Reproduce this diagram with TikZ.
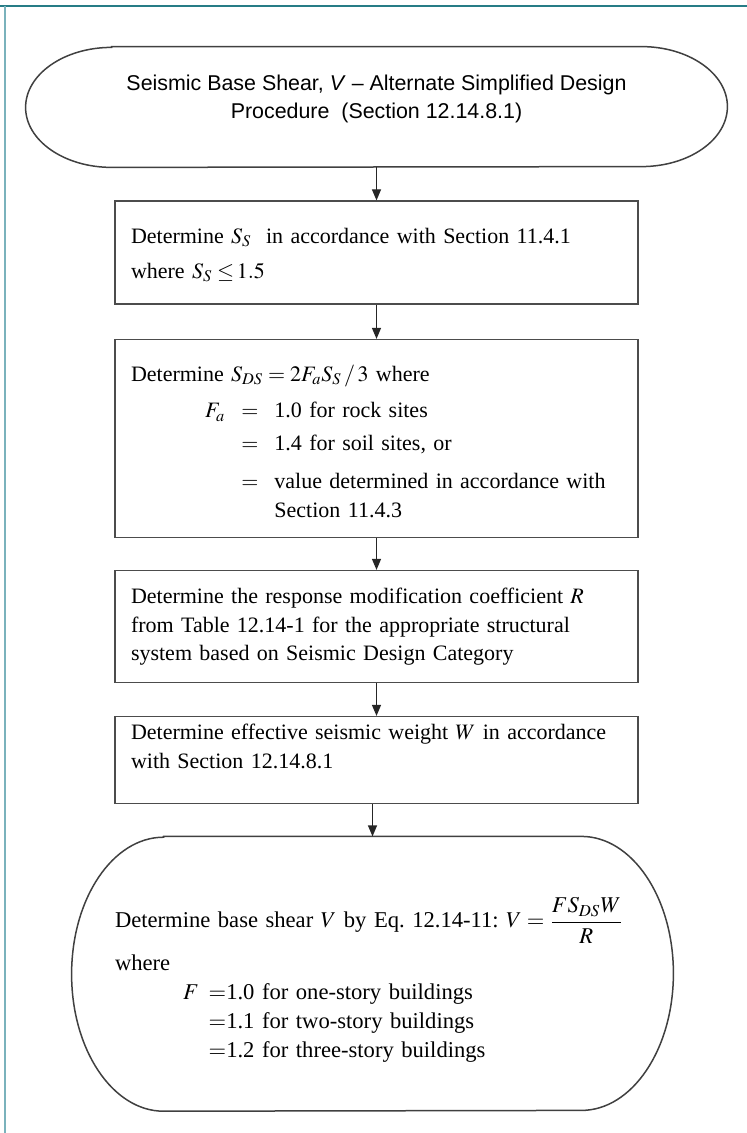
\documentclass[tikz,border=0pt]{standalone}
\usepackage{amsmath}
\usepackage{mathptmx}
\usepackage{fontspec}
\setmainfont{Liberation Serif}
\newfontfamily\titlefont{Liberation Sans}
\frenchspacing
\usetikzlibrary{positioning,shapes,arrows.meta}
\definecolor{FrameTeal}{RGB}{38,124,134}
\definecolor{FrameTealLight}{RGB}{122,178,188}
\tikzstyle{StepBox}=[rectangle, draw=black!70, line width=0.75pt, text width=245.5pt, inner xsep=8pt, align=left, font=\fontsize{11}{14.25}\selectfont]
\tikzstyle{TermNode}=[rectangle, inner sep=0pt, align=center]
\tikzstyle{TermLine}=[draw=black!75, line width=0.75pt]
\tikzstyle{FlowArrow}=[-{Triangle[length=5.5pt,width=4.5pt]}, draw=black!85, line width=0.6pt]

\begin{document}
\begin{tikzpicture}[node distance={15.75pt}]
  \useasboundingbox (0,0) rectangle (373.5pt,-566.5pt);
  % frame
  \draw[FrameTeal, line width=1pt] (0,-3pt) -- (373.5pt,-3pt);
  \draw[FrameTealLight, line width=1.2pt] (2.5pt,-3pt) -- (2.5pt,-566.5pt);

  \node[TermNode, minimum width=350.5pt, minimum height=60pt, font=\titlefont\fontsize{10.7}{14}\selectfont] (start) at (188.25pt,-53.5pt) {Seismic Base Shear, \textit{V} – Alternate Simplified Design\\ Procedure\ \ (Section 12.14.8.1)\rule[-10pt]{0pt}{10pt}};
  \node[StepBox, minimum height=51.5pt, below=16.5pt of start] (ss) {\rule{0pt}{10pt}Determine $S_S$\ \ in accordance with Section 11.4.1\\[3pt] where $S_S \le\! 1.5$};
  \node[StepBox, minimum height=99pt, below=17pt of ss] (sds) {\rule{0pt}{15pt}Determine $S_{DS} = 2F_aS_S\,/\,3$ where\\[4pt]
    \hspace*{37pt}\begin{tabular}[t]{@{}r@{\hspace{8pt}}c@{\hspace{8pt}}l@{}}
      $F_a$ & $=$ & 1.0 for rock sites\\[2pt]
            & $=$ & 1.4 for soil sites, or\\[5pt]
            & $=$ & value determined in accordance with\\
            &     & Section 11.4.3
    \end{tabular}};
  \node[StepBox, minimum height=56pt, below=of sds] (rcoef) {Determine the response modification coefficient $R$\\ from Table 12.14-1 for the appropriate structural\\ system based on Seismic Design Category};
  \node[StepBox, minimum height=43.5pt, below=16.25pt of rcoef] (wt) {Determine effective seismic weight $W$ in accordance\\ with Section 12.14.8.1\rule[-14pt]{0pt}{14pt}};
  \node[TermNode, minimum height=137pt, text width=257.5pt, inner xsep=21.5pt, align=left, font=\fontsize{11.3}{14.5}\selectfont, below=16pt of wt, xshift=-2pt] (shear) {\rule{0pt}{23pt}Determine base shear $V$ by Eq. 12.14-11: $V = \dfrac{FS_{DS}W}{R}$\\[4.5pt]
    where\\
    \hspace*{34pt}\begin{tabular}[t]{@{}r@{\hspace{5pt}}l@{}}
      $F$ & $=$1.0 for one-story buildings\\
          & $=$1.1 for two-story buildings\\
          & $=$1.2 for three-story buildings
    \end{tabular}};

  % terminal outlines
  \draw[TermLine] ([xshift=43pt]start.north west) -- ([xshift=-43pt]start.north east)
    arc[start angle=90, end angle=-90, x radius=43pt, y radius=30pt]
    -- ([xshift=43pt]start.south west)
    arc[start angle=270, end angle=90, x radius=43pt, y radius=30pt] -- cycle;
  \draw[TermLine] ([xshift=46pt]shear.north west) -- ([xshift=-46pt]shear.north east)
    arc[start angle=90, end angle=-90, x radius=46pt, y radius=68.5pt]
    -- ([xshift=46pt]shear.south west)
    arc[start angle=270, end angle=90, x radius=46pt, y radius=68.5pt] -- cycle;

  % connectors
  \draw[FlowArrow] (start) -- (ss);
  \draw[FlowArrow] (ss) -- (sds);
  \draw[FlowArrow] (sds) -- (rcoef);
  \draw[FlowArrow] (rcoef) -- (wt);
  \draw[FlowArrow] (wt.south -| shear) -- (shear);
\end{tikzpicture}
\end{document}
